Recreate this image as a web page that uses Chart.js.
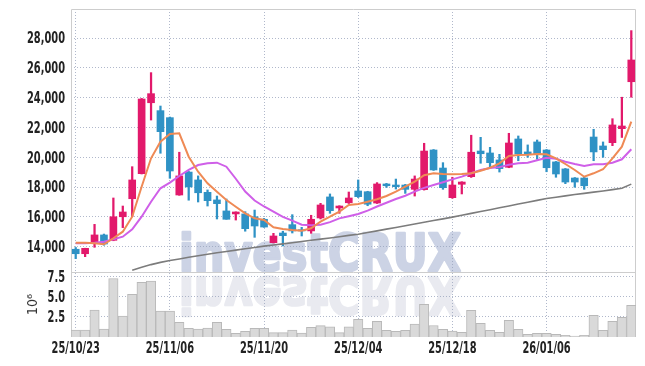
<!DOCTYPE html>
<html><head><meta charset="utf-8">
<script src="https://cdn.jsdelivr.net/npm/chart.js@4"></script>
<style>html,body{margin:0;padding:0;background:#fff;}#wrap{width:645px;height:366px;}</style>
</head><body><div id="wrap"><canvas id="c" width="645" height="366"></canvas></div>
<script>
const dates = ["25/10/23","25/10/24","25/10/27","25/10/28","25/10/29","25/10/30","25/10/31","25/11/03","25/11/04","25/11/05",
"25/11/06","25/11/07","25/11/10","25/11/11","25/11/12","25/11/13","25/11/14","25/11/17","25/11/18","25/11/19",
"25/11/20","25/11/21","25/11/24","25/11/25","25/11/26","25/11/27","25/11/28","25/12/01","25/12/02","25/12/03",
"25/12/04","25/12/05","25/12/08","25/12/09","25/12/10","25/12/11","25/12/12","25/12/15","25/12/16","25/12/17",
"25/12/18","25/12/19","25/12/22","25/12/23","25/12/24","25/12/26","25/12/29","25/12/30","26/01/02","26/01/05",
"26/01/06","26/01/07","26/01/08","26/01/09","26/01/12","26/01/13","26/01/14","26/01/15","26/01/16","26/01/19"];
const openP  = [13830,13530,14270,14790,14430,16010,17220,18900,23660,23130,
22660,17470,19010,18480,17650,17140,16400,16200,16200,16010,
15840,14270,14920,15480,15140,15060,15930,17340,16600,16950,
17740,17690,16930,18210,18140,18140,17850,17830,20490,19280,
17290,18190,18700,20420,20290,19820,19330,21230,20360,21030,
20490,19690,19220,18610,18610,21360,20760,20980,21920,25070];
const highP  = [13950,13900,15500,14850,17270,16730,19370,23950,25680,23440,
22700,20340,19050,18750,17810,17400,17200,16340,16350,16460,
15900,14900,15040,16150,15300,16110,16910,17540,16750,17670,
18480,17720,18300,18250,18540,18180,18750,20940,20520,19640,
18660,18360,21480,21340,20670,20200,21610,21430,20830,21160,
20520,19720,19250,18640,18700,21880,21030,22590,24030,28500];
const lowP   = [13200,13330,13960,14100,14400,15280,16010,18880,22500,20270,
18590,17450,17120,17000,16730,15860,15840,15790,15040,14630,
15300,14250,14050,14920,14720,14900,15860,16240,16240,16900,
17300,16750,16900,17980,17870,17580,17400,17800,19120,17850,
17250,17540,18650,19600,19370,19010,19300,19770,20000,19870,
19030,18660,18230,17990,17850,19770,20000,20780,21330,24030];
const closeP = [13530,13890,14790,14180,16010,16330,18480,23910,24270,21720,
19080,18750,18010,17620,17090,16890,15840,16330,15210,15390,
15320,14720,14740,15060,15060,15840,16800,16420,16730,17270,
17360,16850,18210,18090,18030,17850,18540,20420,19150,17960,
18140,18340,20340,20240,19640,19240,20960,20220,20240,20200,
19300,18880,18340,18340,18090,20360,20510,22170,22100,26530];
const ma5 = [14270,14270,14230,14160,14565,15008,16014,18027,19933,21047,
21563,21610,20040,19034,18256,17692,17135,16685,16243,15907,
15793,15303,15189,15122,15075,15236,15679,16014,16350,16799,
16866,17021,17182,17403,17692,18027,18363,18792,18926,18879,
18859,18879,18926,19101,19302,19597,20087,20154,20174,20221,
20201,19933,19550,19148,18698,18926,19195,19933,20711,22389];
const ma20 = [14230,14230,14270,14337,14498,14672,15169,16014,17021,17920,
18296,18745,19148,19483,19600,19640,19369,18560,17700,17100,
16700,16350,16000,15746,15480,15440,15480,15650,15900,16050,
16200,16420,16700,16950,17200,17420,17700,17950,18141,18330,
18520,18700,18926,19150,19280,19340,19500,19600,19638,19800,
19973,19906,19705,19550,19416,19530,19530,19640,19866,20537];
const ma120 = [null,null,null,null,null,null,12420,12620,12800,12950,
13070,13180,13290,13390,13490,13590,13680,13770,13860,13950,
14040,14110,14190,14270,14350,14430,14510,14590,14670,14760,
14840,14950,15065,15180,15295,15410,15525,15640,15755,15870,
15985,16110,16235,16360,16485,16610,16735,16860,16985,17110,
17230,17320,17410,17500,17580,17660,17740,17830,17920,18200];
const volumeM = [0.87,0.87,3.36,1.0,7.30,2.61,5.31,6.82,6.97,3.23,
3.23,1.83,1.08,0.98,1.10,1.83,0.96,0.46,0.70,1.08,
1.08,0.54,0.54,0.87,0.50,1.20,1.41,1.28,0.54,1.28,
2.20,1.08,1.95,0.83,0.71,0.83,1.62,4.07,1.43,0.96,
0.75,0.58,3.32,1.70,0.83,0.58,2.07,0.96,0.33,0.46,
0.46,0.33,0.21,0.10,0.21,2.70,0.83,1.95,2.45,3.94];
const xTickLabels = ["25/10/23","25/11/06","25/11/20","25/12/04","25/12/18","26/01/06"];
const priceTicks = [14000,16000,18000,20000,22000,24000,26000,28000];
const volTicks = [2.5,5.0,7.5];

const UP = '#e2196b', DOWN = '#2f92c5';
const candleColors = closeP.map((c,i)=> c >= openP[i] ? UP : DOWN);
const FONT = "'DejaVu Sans Condensed','DejaVu Sans',sans-serif";
const GRID = 'rgba(150,160,185,0.75)';

function drawSqueezed(ctx, text, x, y, align, sx){
  ctx.save();
  ctx.translate(x, y); ctx.scale(sx, 1);
  ctx.textAlign = align; ctx.textBaseline = 'middle';
  ctx.fillText(text, 0, 0);
  ctx.restore();
}

const decor = {
  id:'decor',
  beforeDraw(chart){
    const ctx = chart.ctx;
    const text = 'investCRUX';
    ctx.save();
    ctx.font = "bold 51px 'DejaVu Sans'";
    const w = ctx.measureText(text).width;
    const sx = 282 / w;
    ctx.textBaseline = 'alphabetic';
    ctx.lineJoin = 'round';
    ctx.lineWidth = 2.6;
    ctx.save();
    ctx.translate(179, 270.8); ctx.scale(sx, 1);
    ctx.fillStyle = '#ccd3e5'; ctx.strokeStyle = '#ccd3e5';
    ctx.fillText(text, 0, 0); ctx.strokeText(text, 0, 0);
    ctx.restore();
    ctx.save();
    ctx.translate(179, 277.2); ctx.scale(sx, -1);
    ctx.fillStyle = '#e9eaf0'; ctx.strokeStyle = '#e9eaf0';
    ctx.fillText(text, 0, 0); ctx.strokeText(text, 0, 0);
    ctx.restore();
    ctx.restore();
  },
  beforeDatasetsDraw(chart){
    const {ctx, chartArea:a} = chart;
    const yv = chart.scales.yv;
    ctx.save();
    ctx.strokeStyle = '#cdcdcd'; ctx.lineWidth = 1;
    ctx.beginPath();
    ctx.moveTo(a.left+0.5, a.bottom); ctx.lineTo(a.left+0.5, a.top+0.5);
    ctx.lineTo(a.right-0.5, a.top+0.5); ctx.lineTo(a.right-0.5, a.bottom);
    ctx.moveTo(a.left, Math.round(yv.top)+0.5); ctx.lineTo(a.right, Math.round(yv.top)+0.5);
    ctx.stroke();
    ctx.restore();
  },
  afterDraw(chart){
    const ctx = chart.ctx;
    const {x, y, yv} = chart.scales;
    ctx.save();
    ctx.font = "bold 15px " + FONT;
    ctx.fillStyle = '#222';
    const sx = 38 / ctx.measureText('28,000').width;
    priceTicks.forEach(v => drawSqueezed(ctx, v.toLocaleString('en-US'), 65, y.getPixelForValue(v) + 1.5, 'right', sx));
    volTicks.forEach(v => drawSqueezed(ctx, v.toFixed(1), 65, yv.getPixelForValue(v) + 1.5, 'right', sx));
    xTickLabels.forEach(l => drawSqueezed(ctx, l, x.getPixelForValue(dates.indexOf(l)), 349, 'center', sx));
    ctx.restore();
  }
};

new Chart(document.getElementById('c'), {
  type:'bar',
  data:{
    labels: dates,
    datasets:[
      {type:'line', label:'MA5', data:ma5, yAxisID:'y', borderColor:'#ef8a55', borderWidth:2, pointRadius:0, tension:0, order:0},
      {type:'line', label:'MA20', data:ma20, yAxisID:'y', borderColor:'#cf5fe8', borderWidth:2, pointRadius:0, tension:0, order:0},
      {type:'line', label:'MA120', data:ma120, yAxisID:'y', borderColor:'#7c7c7c', borderWidth:1.6, pointRadius:0, tension:0, order:0, spanGaps:false},
      {label:'wick', data: dates.map((d,i)=>[lowP[i], highP[i]]), yAxisID:'y', backgroundColor:candleColors, barThickness:1.6, grouped:false, order:2},
      {label:'body', data: dates.map((d,i)=>[openP[i], closeP[i]]), yAxisID:'y', backgroundColor:candleColors, barThickness:7, grouped:false, order:1},
      {label:'volume', data: volumeM, yAxisID:'yv', backgroundColor:'#d9d9d9', borderColor:'#b9b9b9', borderWidth:1, barPercentage:1, categoryPercentage:1, grouped:false, order:5}
    ]
  },
  options:{
    responsive:false, animation:false, devicePixelRatio:1,
    layout:{padding:{top:9,right:9,bottom:0,left:0}},
    plugins:{legend:{display:false}, tooltip:{enabled:false}},
    scales:{
      x:{type:'category', offset:true,
        afterBuildTicks: s => { s.ticks = s.ticks.filter(t => xTickLabels.includes(dates[t.value])); },
        afterFit: s => { s.height = 29; },
        ticks:{display:false},
        grid:{offset:false, drawTicks:false, color:GRID, lineWidth:1},
        border:{display:false, dash:[1,2]}
      },
      yv:{type:'linear', position:'left', stack:'main', stackWeight:1, min:0, max:8.1,
        afterBuildTicks: s => { s.ticks = volTicks.map(v=>({value:v})); },
        afterFit: s => { s.width = 71; },
        ticks:{display:false},
        title:{display:true, text:'10\u2076', color:'#333', padding:{top:25,bottom:0}, font:{family:FONT, size:14}},
        grid:{drawTicks:false, color:GRID, lineWidth:1},
        border:{display:false, dash:[1,2]}
      },
      y:{type:'linear', position:'left', stack:'main', stackWeight:4.05, min:12300, max:29950,
        afterBuildTicks: s => { s.ticks = priceTicks.map(v=>({value:v})); },
        afterFit: s => { s.width = 71; },
        ticks:{display:false},
        grid:{drawTicks:false, color:GRID, lineWidth:1},
        border:{display:false, dash:[1,2]}
      }
    }
  },
  plugins:[decor]
});
</script></body></html>
